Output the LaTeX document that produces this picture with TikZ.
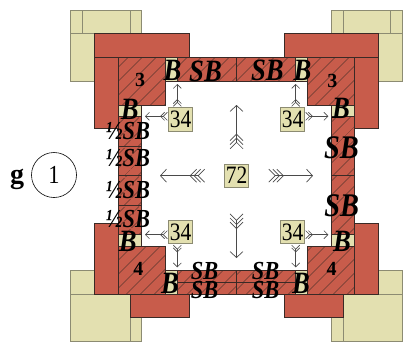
\documentclass[tikz,border=0pt]{standalone}
\usepackage{fontspec}
\setmainfont{Liberation Serif}
\newfontfamily\wallfont[FakeStretch=0.86]{Liberation Serif}
\usetikzlibrary{arrows.meta,patterns.meta}
\definecolor{wallred}{HTML}{C85C4B}
\definecolor{creamfill}{HTML}{E3E0B0}
\definecolor{creamedge}{HTML}{8C8B72}
\definecolor{darkedge}{HTML}{3A2A26}
\definecolor{arrowgray}{HTML}{4A4A4A}
\tikzset{
  feather/.tip={Straight Barb[reversed,length=6.5pt,width=13pt,sep=-3.3pt]},
  smallfeather/.tip={Straight Barb[reversed,length=4pt,width=8pt,sep=-2pt]},
  creamblock/.style={fill=creamfill,draw=creamedge,line width=.9pt},
  creamline/.style={draw=creamedge,line width=.9pt},
  redblock/.style={fill=wallred,draw=darkedge,line width=.7pt},
  hatchwall/.style={preaction={fill=wallred},pattern={Lines[angle=45,distance=10.5pt,line width=.55pt]},pattern color=darkedge,draw=darkedge,line width=.7pt},
  brick/.style={fill=creamfill,draw=darkedge,line width=.5pt},
  boxlabel/.style={fill=creamfill,draw=creamedge,line width=.9pt,minimum width=23.5pt,minimum height=23.5pt,inner sep=0pt,font=\wallfont\fontsize{25}{25}\selectfont},
  biglabel/.style={inner sep=0pt,font=\wallfont\bfseries\itshape\fontsize{31}{31}\selectfont},
  tallabel/.style={inner sep=0pt,font=\wallfont\bfseries\itshape\fontsize{33}{33}\selectfont},
  midlabel/.style={inner sep=0pt,font=\wallfont\bfseries\itshape\fontsize{26}{26}\selectfont},
  sizelabel/.style={inner sep=0pt,font=\bfseries\fontsize{20}{20}\selectfont},
  bigarrow/.style={draw=arrowgray,line width=.7pt,arrows={feather[]feather[]feather[]-Straight Barb[length=6pt,width=13pt]}},
  smallarrow/.style={draw=arrowgray,line width=.6pt,arrows={smallfeather[]smallfeather[]-Straight Barb[length=4pt,width=8pt]}}
}
\begin{document}
\begin{tikzpicture}[x=1pt,y=-1pt]
  \useasboundingbox (0,0) rectangle (406,343);
  % corner blocks
  \draw[creamblock] (70.7,10) rectangle (141.7,81);
  \draw[creamblock] (331,10) rectangle (402.3,81);
  \draw[creamblock] (70.7,270) rectangle (141.7,341.7);
  \draw[creamblock] (331,270) rectangle (402.3,341.7);
  \draw[creamblock] (70.7,294) rectangle (130.3,341.7);
  \draw[creamblock] (343,294) rectangle (402.3,341.7);
  \draw[creamline] (82.3,10) -- (82.3,33.3);
  \draw[creamline] (130.3,10) -- (130.3,33.3);
  \draw[creamline] (70.7,33.3) -- (94.3,33.3);
  \draw[creamline] (343,10) -- (343,33.3);
  \draw[creamline] (390.3,10) -- (390.3,33.3);
  \draw[creamline] (378.3,33.3) -- (402.3,33.3);
  % red bands
  \draw[redblock] (94.3,33.3) rectangle (189.3,57.5);
  \draw[redblock] (94.3,57.5) rectangle (118.3,128);
  \draw[redblock] (284,33.3) rectangle (378.3,57.5);
  \draw[redblock] (354.7,57.5) rectangle (378.3,128);
  \draw[redblock] (94.3,223) rectangle (118.3,294);
  \draw[redblock] (130.3,294) rectangle (189.3,317.3);
  \draw[redblock] (354.7,223) rectangle (378.3,294);
  \draw[redblock] (284,294) rectangle (343,317.3);
  % hatched walls
  \draw[hatchwall] (118.3,57.5) rectangle (165.7,105);
  \draw[hatchwall] (307.3,57.5) rectangle (354.7,105);
  \draw[hatchwall] (118.3,246.7) rectangle (165.7,294);
  \draw[hatchwall] (307.3,246.7) rectangle (354.7,294);
  \draw[hatchwall] (177.7,57.5) rectangle (236.3,81);
  \draw[hatchwall] (236.3,57.5) rectangle (295.7,81);
  \draw[hatchwall] (177.7,270.3) rectangle (236.3,282.3);
  \draw[hatchwall] (236.3,270.3) rectangle (295.7,282.3);
  \draw[hatchwall] (177.7,282.3) rectangle (236.3,294);
  \draw[hatchwall] (236.3,282.3) rectangle (295.7,294);
  \draw[hatchwall] (118.3,116.7) rectangle (141.7,146);
  \draw[hatchwall] (118.3,146) rectangle (141.7,175);
  \draw[hatchwall] (118.3,175) rectangle (141.7,205.3);
  \draw[hatchwall] (118.3,205.3) rectangle (141.7,234.3);
  \draw[hatchwall] (331.3,116.7) rectangle (354.7,175);
  \draw[hatchwall] (331.3,175) rectangle (354.7,234.3);
  % small bricks
  \draw[brick] (165.7,57.5) rectangle (177.7,81);
  \draw[brick] (295.7,57.5) rectangle (307.3,81);
  \draw[brick] (165.7,270.3) rectangle (177.7,294);
  \draw[brick] (295.7,270.3) rectangle (307.3,294);
  \draw[brick] (118.3,105) rectangle (141.7,116.7);
  \draw[brick] (331.3,105) rectangle (354.7,116.7);
  \draw[brick] (118.3,234.3) rectangle (141.7,246.7);
  \draw[brick] (331.3,234.3) rectangle (354.7,246.7);
  % wall labels
  \node[biglabel] (btl) at (172.5,70.5) {B};
  \node[biglabel] (btr) at (302.5,70.5) {B};
  \node[biglabel] (blt) at (129.7,109.7) {B};
  \node[biglabel] (brt) at (341,108.5) {B};
  \node[biglabel] (blb) at (127.7,241.3) {B};
  \node[biglabel] (brb) at (342,241.3) {B};
  \node[biglabel] (bbl) at (170,283.3) {B};
  \node[biglabel] (bbr) at (301,283.3) {B};
  \node[biglabel] (sbt1) at (205.5,71) {SB};
  \node[biglabel] (sbt2) at (267.3,70.5) {SB};
  \node[tallabel] (sbr1) at (341.5,148) {SB};
  \node[tallabel] (sbr2) at (341.7,205.5) {SB};
  \node[midlabel] (sbb1) at (204.5,271.3) {SB};
  \node[midlabel] (sbb2) at (265.5,271.3) {SB};
  \node[midlabel] (sbb3) at (204.5,290.5) {SB};
  \node[midlabel] (sbb4) at (265.5,290.5) {SB};
  \node[midlabel] (hsb1) at (128,131.3) {½SB};
  \node[midlabel] (hsb2) at (128,158) {½SB};
  \node[midlabel] (hsb3) at (128,190.5) {½SB};
  \node[midlabel] (hsb4) at (128,219.5) {½SB};
  \node[sizelabel] (three1) at (140,80) {3};
  \node[sizelabel] (three2) at (332.3,81) {3};
  \node[sizelabel] (four1) at (138.3,269) {4};
  \node[sizelabel] (four2) at (331.7,269) {4};
  % boxes
  \node[boxlabel] (n34a) at (180.5,119.5) {34};
  \node[boxlabel] (n34b) at (292.5,119.5) {34};
  \node[boxlabel] (n34c) at (180.5,232) {34};
  \node[boxlabel] (n34d) at (292.5,232) {34};
  \node[boxlabel] (n72) at (236.5,175.7) {72};
  % arrow ends
  \coordinate (tipup) at (236.5,105);
  \coordinate (tipdown) at (236.5,258);
  \coordinate (tipleft) at (160,175.7);
  \coordinate (tipright) at (313,175.7);
  \coordinate (aup) at (177.3,84);
  \coordinate (aleft) at (145,116.3);
  \coordinate (bup) at (295.7,84);
  \coordinate (bright) at (328.3,116.3);
  \coordinate (cdown) at (177.3,267.3);
  \coordinate (cleft) at (145,234.7);
  \coordinate (ddown) at (295.7,267.3);
  \coordinate (dright) at (328.3,234.7);
  \draw[bigarrow,shorten <=17.7pt] (n72) -- (tipup);
  \draw[bigarrow,shorten <=29pt] (n72) -- (tipdown);
  \draw[bigarrow,shorten <=22.6pt] (n72) -- (tipleft);
  \draw[bigarrow,shorten <=23pt] (n72) -- (tipright);
  \draw[smallarrow,shorten <=2.7pt] (n34a.north -| aup) -- (aup);
  \draw[smallarrow,shorten <=2.7pt] (n34a.west |- aleft) -- (aleft);
  \draw[smallarrow,shorten <=2.7pt] (n34b.north -| bup) -- (bup);
  \draw[smallarrow,shorten <=2.7pt] (n34b.east |- bright) -- (bright);
  \draw[smallarrow,shorten <=2.7pt] (n34c.south -| cdown) -- (cdown);
  \draw[smallarrow,shorten <=2.7pt] (n34c.west |- cleft) -- (cleft);
  \draw[smallarrow,shorten <=2.7pt] (n34d.south -| ddown) -- (ddown);
  \draw[smallarrow,shorten <=2.7pt] (n34d.east |- dright) -- (dright);
  % key
  \node[inner sep=0pt,font=\bfseries\fontsize{28}{28}\selectfont] (keyg) at (17,179.5) {g};
  \node[draw,circle,line width=.6pt,minimum size=45pt,inner sep=0pt,font=\wallfont\fontsize{26}{26}\selectfont] (keyone) at (54,175) {1};
\end{tikzpicture}
\end{document}
